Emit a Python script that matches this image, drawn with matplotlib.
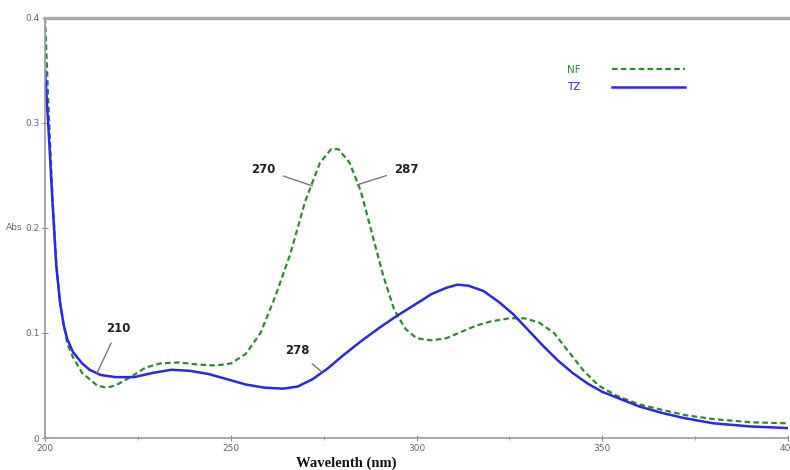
import matplotlib.pyplot as plt
from matplotlib.ticker import MultipleLocator

# UV spectra, wavelength (nm) vs absorbance
nf_wl = [200, 201, 202, 203, 204, 205, 206, 207.5, 210, 212, 214, 216.5, 219,
         223, 227, 231, 236, 241, 246, 250, 254, 258, 262, 266, 270, 274, 277,
         279, 282, 285, 288, 291, 294, 297, 300, 304, 308, 312, 316, 320, 325,
         329, 333, 337, 341, 345, 349, 354, 360, 366, 372, 380, 390, 400]
nf_abs = [0.400, 0.310, 0.230, 0.168, 0.130, 0.108, 0.090, 0.077, 0.062, 0.056,
          0.050, 0.048, 0.050, 0.058, 0.067, 0.071, 0.072, 0.070, 0.069, 0.071,
          0.080, 0.100, 0.135, 0.175, 0.225, 0.262, 0.275, 0.275, 0.262, 0.235,
          0.195, 0.155, 0.122, 0.104, 0.095, 0.093, 0.095, 0.101, 0.107, 0.111,
          0.114, 0.114, 0.110, 0.100, 0.082, 0.064, 0.050, 0.040, 0.032, 0.027,
          0.022, 0.018, 0.015, 0.014]

tz_wl = [200, 201, 202, 203, 204, 205, 206, 207.5, 210, 212, 215, 219, 224,
         229, 234, 239, 244, 249, 254, 259, 264, 268, 272, 276, 280, 285, 290,
         295, 300, 304, 308, 311, 314, 318, 322, 326, 330, 334, 338, 342, 346,
         350, 355, 360, 366, 372, 380, 390, 400]
tz_abs = [0.350, 0.290, 0.225, 0.165, 0.130, 0.108, 0.094, 0.082, 0.071, 0.065,
          0.060, 0.058, 0.058, 0.062, 0.065, 0.064, 0.061, 0.056, 0.051, 0.048,
          0.047, 0.049, 0.056, 0.066, 0.078, 0.092, 0.105, 0.117, 0.128, 0.137,
          0.143, 0.146, 0.145, 0.140, 0.130, 0.118, 0.103, 0.088, 0.074, 0.062,
          0.052, 0.044, 0.037, 0.030, 0.024, 0.019, 0.014, 0.011, 0.0095]

# peak annotations: label, point on curve, text position
ann_labels = ["210", "270", "287", "278"]
ann_points = [(214, 0.062), (272, 0.240), (284, 0.241), (274.5, 0.063)]
ann_text = [(219.6, 0.104), (258.7, 0.256), (297.4, 0.256), (267.8, 0.083)]

x_ticks = [200, 250, 300, 350, 400]
y_ticks = [0, 0.1, 0.2, 0.3, 0.4]
y_tick_labels = ["0", "0.1", "0.2", "0.3", "0.4"]

fig = plt.figure(figsize=(7.9, 4.7), dpi=100)
ax = fig.add_axes([0.057, 0.068, 0.9405, 0.894])

ax.plot(nf_wl, nf_abs, color="#2f8a2f", lw=1.6, ls=(0, (2.5, 1.5)), label="NF")
ax.plot(tz_wl, tz_abs, color="#2828e8", lw=1.8, label="TZ")

for lab, pt, txt in zip(ann_labels, ann_points, ann_text):
    ax.annotate(lab, xy=pt, xytext=txt, ha="center", va="center",
                fontsize=8.5, fontweight="bold", color="#222222",
                arrowprops=dict(arrowstyle="-", color="#777777", lw=1,
                                shrinkA=4, shrinkB=0))

ax.set_xlim(200, 400)
ax.set_ylim(0, 0.4)
ax.set_xticks(x_ticks)
ax.set_yticks(y_ticks)
ax.set_yticklabels(y_tick_labels)
ax.xaxis.set_minor_locator(MultipleLocator(25))
ax.tick_params(axis="both", which="major", direction="inout", length=4,
               labelsize=6.5, colors="#888888", labelcolor="#666666", pad=2)
ax.tick_params(axis="x", which="minor", direction="inout", length=3,
               colors="#888888")

for side in ["left", "bottom"]:
    ax.spines[side].set_color("#999999")
    ax.spines[side].set_linewidth(1.2)
ax.spines["top"].set_color("#aaaaaa")
ax.spines["top"].set_linewidth(2.5)
ax.spines["right"].set_visible(False)

ax.set_xlabel("Wavelenth (nm)", family="Liberation Serif", fontweight="bold",
              fontsize=10.5, color="#111111")
ax.xaxis.set_label_coords(0.405, -0.045)
ax.set_ylabel("Abs", rotation=0, fontsize=6.5, color="#666666")
ax.yaxis.set_label_coords(-0.042, 0.49)

leg = ax.legend(loc="upper left", bbox_to_anchor=(0.69, 0.91), frameon=False,
                markerfirst=False, handlelength=7.0, fontsize=7.5,
                labelspacing=0.7, handletextpad=3.0, labelcolor="linecolor")

fig.savefig("out.png", dpi=100)
